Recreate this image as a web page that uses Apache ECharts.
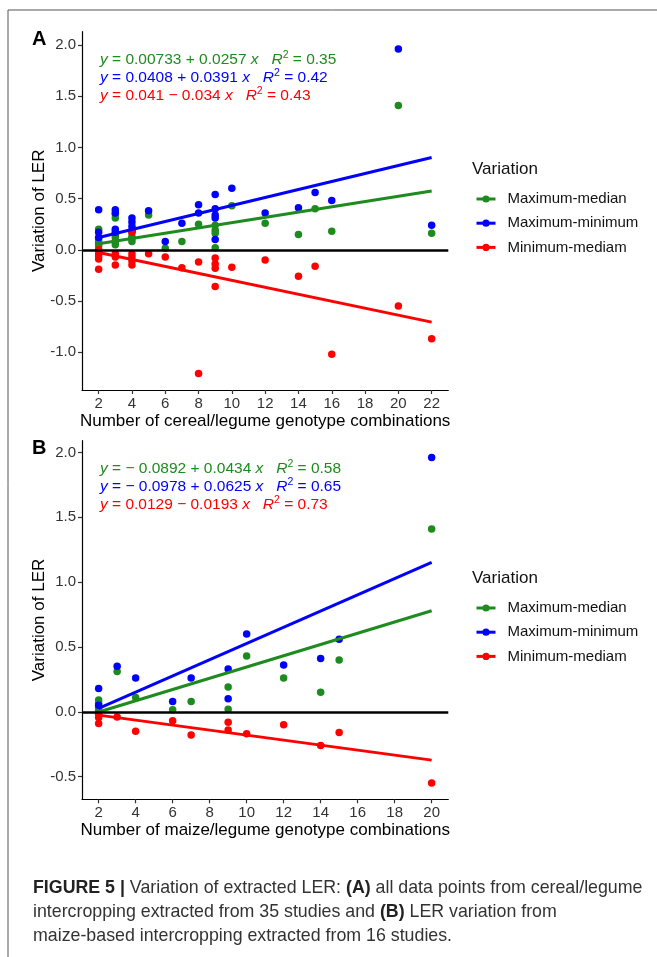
<!DOCTYPE html>
<html>
<head>
<meta charset="utf-8">
<script src="https://cdn.jsdelivr.net/npm/echarts@6/dist/echarts.min.js"></script>
<style>
html,body{margin:0;padding:0;background:#fff;}
#chart{width:657px;height:957px;}
</style>
</head>
<body>
<div id="chart"></div>
<script>
// ---------- DATA ----------
const seriesNames = ['Maximum-median', 'Maximum-minimum', 'Minimum-mediam'];
const seriesColors = ['#1E8B1E', '#0000FF', '#FF0000'];

// Panel A: cereal/legume
const xTicksA = [2, 4, 6, 8, 10, 12, 14, 16, 18, 20, 22];
const yTicksA = [-1.0, -0.5, 0.0, 0.5, 1.0, 1.5, 2.0];
const maxMedianA = [
  [2,0.20],[2,0.11],[2,0.08],[2,0.06],[2,0.04],
  [3,0.35],[3,0.31],[3,0.15],[3,0.12],[3,0.08],[3,0.05],
  [4,0.17],[4,0.13],[4,0.11],[4,0.08],
  [5,0.34],[6,0.015],[7,0.08],[8,0.25],
  [9,0.24],[9,0.19],[9,0.16],[9,0.02],
  [10,0.43],[12,0.26],[14,0.15],[15,0.40],[16,0.18],[20,1.41],[22,0.16]
];
const maxMinA = [
  [2,0.39],[2,0.17],[2,0.12],
  [3,0.39],[3,0.36],[3,0.20],[3,0.17],
  [4,0.31],[4,0.27],[4,0.23],[4,0.19],
  [5,0.38],[6,0.08],[7,0.26],[8,0.44],[8,0.36],
  [9,0.54],[9,0.40],[9,0.34],[9,0.31],[9,0.10],
  [10,0.60],[12,0.36],[14,0.41],[15,0.56],[16,0.48],[20,1.96],[22,0.24]
];
const minMedianA = [
  [2,0.0],[2,-0.04],[2,-0.06],[2,-0.09],[2,-0.19],
  [3,-0.04],[3,-0.07],[3,-0.15],
  [4,0.17],[4,-0.04],[4,-0.07],[4,-0.11],[4,-0.15],
  [5,-0.04],[6,-0.07],[7,-0.175],[8,-0.12],[8,-1.21],
  [9,-0.08],[9,-0.14],[9,-0.18],[9,-0.36],
  [10,-0.17],[12,-0.10],[14,-0.26],[15,-0.16],[16,-1.02],[20,-0.55],[22,-0.87]
];
const fitXA = [2, 22];
const fitMaxMedianA = [0.059, 0.573];
const fitMaxMinA = [0.119, 0.901];
const fitMinMedianA = [-0.027, -0.707];
const eqA = [
  ['0.00733 + 0.0257', '0.35'],
  ['0.0408 + 0.0391', '0.42'],
  ['0.041 \u2212 0.034', '0.43']
];

// Panel B: maize/legume
const xTicksB = [2, 4, 6, 8, 10, 12, 14, 16, 18, 20];
const yTicksB = [-0.5, 0.0, 0.5, 1.0, 1.5, 2.0];
const maxMedianB = [
  [2,0.09],[2,0.065],[2,0.035],[2,0.01],[3,0.31],[4,0.11],[6,0.015],[7,0.08],
  [9,0.19],[9,0.02],[10,0.43],[12,0.26],[14,0.15],[15,0.40],[20,1.41]
];
const maxMinB = [
  [2,0.18],[2,0.05],[3,0.35],[4,0.26],[6,0.08],[7,0.26],[9,0.33],[9,0.10],
  [10,0.60],[12,0.36],[14,0.41],[15,0.56],[20,1.96]
];
const minMedianB = [
  [2,-0.02],[2,-0.045],[2,-0.09],[3,-0.04],[4,-0.15],[6,-0.07],[7,-0.18],
  [9,-0.08],[9,-0.14],[10,-0.17],[12,-0.10],[14,-0.26],[15,-0.16],[20,-0.55]
];
const fitXB = [2, 20];
const fitMaxMedianB = [-0.002, 0.779];
const fitMaxMinB = [0.027, 1.152];
const fitMinMedianB = [-0.026, -0.373];
const eqB = [
  ['\u2212 0.0892 + 0.0434', '0.58'],
  ['\u2212 0.0978 + 0.0625', '0.65'],
  ['0.0129 \u2212 0.0193', '0.73']
];

const xTitleA = 'Number of cereal/legume genotype combinations';
const xTitleB = 'Number of maize/legume genotype combinations';
const yTitle = 'Variation of LER';
const legendTitle = 'Variation';

// ---------- BUILD ----------
const FONT = '"Liberation Sans", Arial, Helvetica, sans-serif';
const chart = echarts.init(document.getElementById('chart'), null, {renderer: 'canvas'});

function zip(xs, ys) { return xs.map((x, i) => [x, ys[i]]); }

function xAxisCfg(grid, min, max, ticks, title) {
  return {
    gridIndex: grid, type: 'value', min: min, max: max,
    name: title, nameLocation: 'middle', nameGap: 23, nameMoveOverlap: false,
    nameTextStyle: {fontSize: 17, color: '#000', fontFamily: FONT, verticalAlign: 'top'},
    axisLine: {show: true, onZero: false, lineStyle: {color: '#000', width: 1.2}},
    axisTick: {show: true, length: 4, lineStyle: {color: '#333', width: 1.2}, customValues: ticks},
    axisLabel: {show: true, fontSize: 15, color: '#333', margin: 6, fontFamily: FONT, customValues: ticks,
      formatter: v => String(v)},
    splitLine: {show: false}
  };
}
function yAxisCfg(grid, min, max, ticks) {
  return {
    gridIndex: grid, type: 'value', min: min, max: max,
    name: yTitle, nameLocation: 'middle', nameGap: 34, nameRotate: 90, nameMoveOverlap: false,
    nameTextStyle: {fontSize: 17, color: '#000', fontFamily: FONT},
    axisLine: {show: true, onZero: false, lineStyle: {color: '#000', width: 1.2}},
    axisTick: {show: true, length: 4, lineStyle: {color: '#333', width: 1.2}, customValues: ticks},
    axisLabel: {show: true, fontSize: 15, color: '#333', margin: 6, fontFamily: FONT, customValues: ticks,
      formatter: v => v.toFixed(1)},
    splitLine: {show: false}
  };
}

const scatterA = [maxMedianA, maxMinA, minMedianA];
const scatterB = [maxMedianB, maxMinB, minMedianB];
const fitsA = [fitMaxMedianA, fitMaxMinA, fitMinMedianA];
const fitsB = [fitMaxMedianB, fitMaxMinB, fitMinMedianB];

const series = [];
// regression lines first (legend icons come from them)
[[fitsA, fitXA, 0], [fitsB, fitXB, 1]].forEach(([fits, xs, g]) => {
  fits.forEach((ys, i) => {
    const s = {
      type: 'line', name: seriesNames[i], xAxisIndex: g, yAxisIndex: g,
      data: zip(xs, ys), symbol: 'circle', symbolSize: 7, showSymbol: false,
      lineStyle: {width: 3, color: seriesColors[i]}, itemStyle: {color: seriesColors[i]},
      z: 3, silent: true
    };
    if (i === 2) {
      s.markLine = {silent: true, symbol: 'none', label: {show: false},
        lineStyle: {color: '#000', width: 2.6, type: 'solid'}, data: [{yAxis: 0}], z: 5};
    }
    series.push(s);
  });
});
[[scatterA, 0], [scatterB, 1]].forEach(([sets, g]) => {
  sets.forEach((d, i) => {
    series.push({
      type: 'scatter', name: seriesNames[i], xAxisIndex: g, yAxisIndex: g,
      data: d, symbol: 'circle', symbolSize: 7.5,
      itemStyle: {color: seriesColors[i], opacity: 1}, z: 2, silent: true
    });
  });
});

function eqText(eq) {
  return '{i|y}{n| = ' + eq[0] + ' }{i|x}{n|   }{i|R}{s|2}{n| = ' + eq[1] + '}';
}
function eqGraphics(eqs, x, y0) {
  return eqs.map((eq, i) => ({
    type: 'text', left: x, top: y0 + i * 18, z: 10,
    style: {
      text: eqText(eq), fill: seriesColors[i], font: '15.5px ' + FONT,
      rich: {
        n: {fontSize: 15.5, fill: seriesColors[i], fontFamily: FONT, lineHeight: 18, verticalAlign: 'bottom'},
        i: {fontSize: 15.5, fill: seriesColors[i], fontFamily: FONT, fontStyle: 'italic', lineHeight: 18, verticalAlign: 'bottom'},
        s: {fontSize: 10.5, fill: seriesColors[i], fontFamily: FONT, lineHeight: 18, verticalAlign: 'top'}
      }
    }
  }));
}

function legendCfg(top) {
  return {
    orient: 'vertical', left: 475, top: top, padding: 0,
    itemWidth: 19, itemHeight: 9, itemGap: 9.2,
    data: seriesNames, selectedMode: false,
    lineStyle: {width: 3},
    textStyle: {fontSize: 15, color: '#111', fontFamily: FONT, padding: [0, 0, 0, 7]}
  };
}

const option = {
  animation: false,
  backgroundColor: '#fff',
  textStyle: {fontFamily: FONT},
  grid: [
    {left: 82, top: 31.7, width: 366.3, height: 358.3, containLabel: false},
    {left: 82, top: 440.7, width: 366.3, height: 358.6, containLabel: false}
  ],
  xAxis: [xAxisCfg(0, 1, 23, xTicksA, xTitleA), xAxisCfg(1, 1.1, 20.9, xTicksB, xTitleB)],
  yAxis: [yAxisCfg(0, -1.37, 2.13, yTicksA), yAxisCfg(1, -0.675, 2.09, yTicksB)],
  legend: [legendCfg(191.5), legendCfg(600.5)],
  series: series,
  graphic: [
    // figure frame (top + left)
    {type: 'line', shape: {x1: 8, y1: 10, x2: 657, y2: 10}, style: {stroke: '#555', lineWidth: 1}},
    {type: 'line', shape: {x1: 8, y1: 10, x2: 8, y2: 957}, style: {stroke: '#555', lineWidth: 1}},
    // panel letters
    {type: 'text', left: 32, top: 29, style: {text: 'A', font: 'bold 20px ' + FONT, fill: '#000'}},
    {type: 'text', left: 32, top: 438, style: {text: 'B', font: 'bold 20px ' + FONT, fill: '#000'}},
    // legend titles
    {type: 'text', left: 472, top: 161, style: {text: legendTitle, font: '17px ' + FONT, fill: '#111'}},
    {type: 'text', left: 472, top: 570, style: {text: legendTitle, font: '17px ' + FONT, fill: '#111'}},
    ...eqGraphics(eqA, 100, 50),
    ...eqGraphics(eqB, 100, 459),
    // caption
    {type: 'text', left: 33, top: 876, style: {
      text: '{b|FIGURE 5 |} Variation of extracted LER: {b|(A)} all data points from cereal/legume\n' +
            'intercropping extracted from 35 studies and {b|(B)} LER variation from\n' +
            'maize-based intercropping extracted from 16 studies.',
      font: '17.8px ' + FONT, fill: '#333', lineHeight: 24,
      rich: {
        b: {fontWeight: 'bold', fontSize: 17.8, fill: '#222', fontFamily: FONT, lineHeight: 24}
      }
    }}
  ]
};
chart.setOption(option);
</script>
</body>
</html>
